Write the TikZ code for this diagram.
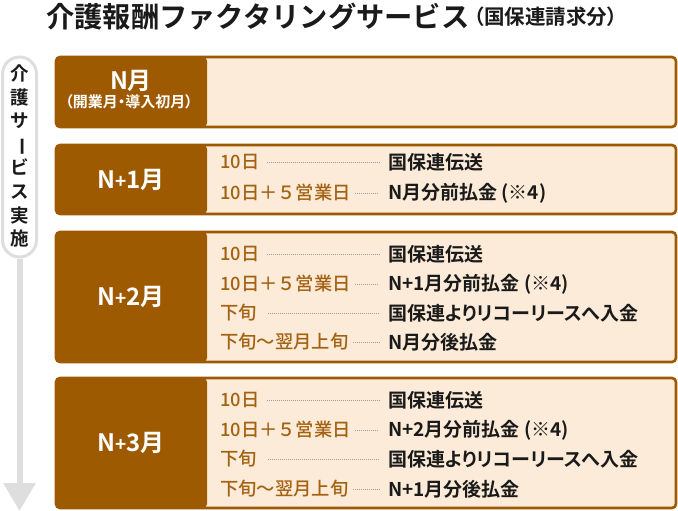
\documentclass[tikz,border=0pt]{standalone}
\usepackage{fontspec}
\usepackage{graphicx}
\setmainfont{Noto Sans CJK JP}
\newfontfamily\jpbold{Noto Sans CJK JP Bold}
\newfontfamily\jppalt[RawFeature=+palt]{Noto Sans CJK JP Bold}
\newfontfamily\jpmed{Noto Sans CJK JP Medium}
\usetikzlibrary{arrows.meta}
\definecolor{ricohbrown}{RGB}{158,90,0}
\definecolor{ricohcream}{RGB}{252,235,216}
\definecolor{whenbrown}{RGB}{163,98,18}
\definecolor{pillgray}{RGB}{222,222,222}
\definecolor{inkblack}{RGB}{26,26,26}
\newcommand{\fsz}[1]{\fontsize{#1}{#1}\selectfont}

\tikzset{
    monthbox/.style={draw=ricohbrown, line width=2.6pt, fill=ricohcream, rounded corners=4pt,
        minimum width=620pt, inner sep=0pt,
        path picture={\fill[ricohbrown] (path picture bounding box.north west) rectangle ([xshift=151pt]path picture bounding box.south west);}},
    monthlbl/.style={text=white, font=\jpbold\fsz{24}, inner sep=0pt},
    whenlbl/.style={anchor=west, text=whenbrown, font=\jpmed\fsz{18.3}, inner sep=0pt},
    whatlbl/.style={anchor=west, text=inkblack, font=\jppalt\fsz{19}, inner sep=0pt},
    leader/.style={draw=gray!75, line width=0.7pt, dash pattern=on 0.9pt off 1.1pt, shorten <=4pt, shorten >=9pt},
}

\begin{document}
\begin{tikzpicture}[x=1pt, y=-1pt]
    \useasboundingbox (0,0) rectangle (678,511);
    % Add title
    \node[anchor=west, inner sep=0pt, text=inkblack, font=\jpbold\fsz{28.3}] (ttl) at (46,17) {介護報酬ファクタリングサービス};
    \node[anchor=west, inner sep=0pt, text=inkblack, font=\jppalt\fsz{20.5}] (ttlsub) at ([xshift=4pt]ttl.east) {（国保連請求分）};

    % Add time axis
    \node[draw=pillgray, line width=3pt, fill=white, rounded corners=17pt, minimum width=34pt, minimum height=200pt, inner sep=0pt] (pill) at (19.5,157) {};
    \node[align=center, inner sep=0pt, text=inkblack, font=\jpbold\fsz{18.5}, execute at begin node={\setlength{\baselineskip}{23.6pt}}] (pilltxt) at ([yshift=1pt]pill.center)
        {介\\護\\サ\\\rotatebox[origin=c]{-90}{ー}\\ビ\\ス\\実\\施};
    \coordinate (axend) at (19.5,511);
    \draw[pillgray, line width=6pt, -{Triangle[width=31pt, length=28pt]}] (pill.south) -- (axend);

    % N month
    \node[monthbox, minimum height=70pt] (m0) at (366,92) {};
    \node[monthlbl] (m0lbl) at (131,81) {N月};
    \node[text=white, font=\jppalt\fsz{15}, inner sep=0pt] (m0sub) at (129,102) {（開業月・導入初月）};

    % N+1 month
    \node[monthbox, minimum height=69pt] (m1) at (366,179.5) {};
    \node[monthlbl] (m1lbl) at (131,180) {N{\fsz{19}+}1月};
    \node[whenlbl] (w11) at (220,162) {10日};
    \node[whatlbl] (t11) at (388,162) {国保連伝送};
    \node[whenlbl] (w12) at (220,193) {10日＋５営業日};
    \node[whatlbl] (t12) at (388,193) {N月分前払金 (※4)};
    \draw[leader, shorten <=7pt] (w11.east) -- (t11.west);
    \draw[leader] (w12.east) -- (t12.west);

    % N+2 month
    \node[monthbox, minimum height=130pt] (m2) at (366,297) {};
    \node[monthlbl] (m2lbl) at (131,297) {N{\fsz{19}+}2月};
    \node[whenlbl] (w21) at (220,254) {10日};
    \node[whatlbl] (t21) at (388,254) {国保連伝送};
    \node[whenlbl] (w22) at (220,284) {10日＋５営業日};
    \node[whatlbl] (t22) at (388,284) {N+1月分前払金 (※4)};
    \node[whenlbl] (w23) at (220,313) {下旬};
    \node[whatlbl] (t23) at (388,313) {国保連よりリコーリースへ入金};
    \node[whenlbl] (w24) at (220,342) {下旬～翌月上旬};
    \node[whatlbl] (t24) at (388,342) {N月分後払金};
    \draw[leader, shorten <=7pt] (w21.east) -- (t21.west);
    \draw[leader] (w22.east) -- (t22.west);
    \draw[leader, shorten <=11pt] (w23.east) -- (t23.west);
    \draw[leader] (w24.east) -- (t24.west);

    % N+3 month
    \node[monthbox, minimum height=130pt] (m3) at (366,443) {};
    \node[monthlbl] (m3lbl) at (131,443) {N{\fsz{19}+}3月};
    \node[whenlbl] (w31) at (220,400) {10日};
    \node[whatlbl] (t31) at (388,400) {国保連伝送};
    \node[whenlbl] (w32) at (220,430) {10日＋５営業日};
    \node[whatlbl] (t32) at (388,430) {N+2月分前払金 (※4)};
    \node[whenlbl] (w33) at (220,459) {下旬};
    \node[whatlbl] (t33) at (388,459) {国保連よりリコーリースへ入金};
    \node[whenlbl] (w34) at (220,489) {下旬～翌月上旬};
    \node[whatlbl] (t34) at (388,489) {N+1月分後払金};
    \draw[leader, shorten <=7pt] (w31.east) -- (t31.west);
    \draw[leader] (w32.east) -- (t32.west);
    \draw[leader, shorten <=11pt] (w33.east) -- (t33.west);
    \draw[leader] (w34.east) -- (t34.west);
\end{tikzpicture}
\end{document}
